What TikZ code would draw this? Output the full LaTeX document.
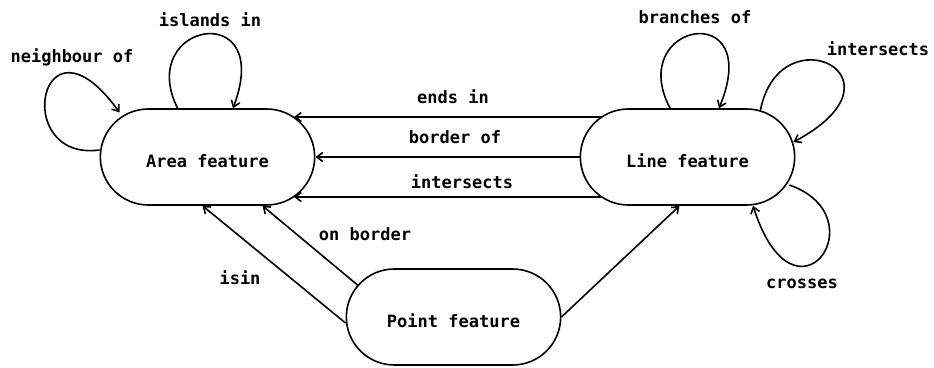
\documentclass[tikz,border=0pt]{standalone}
\usepackage{fontspec}
\setmonofont{DejaVu Sans Mono}
\usetikzlibrary{shapes.misc,arrows.meta}

\tikzset{
  feature/.style={draw, rounded rectangle, line width=1.6pt,
    minimum width=221pt, minimum height=96pt,
    font=\ttfamily\bfseries\fontsize{17}{20}\selectfont,
    text height=21pt, text depth=0pt},
  lab/.style={font=\ttfamily\bfseries\fontsize{17}{20}\selectfont, anchor=base, inner sep=0pt},
  arr/.style={line width=1.6pt, -{Straight Barb[length=6pt,width=9pt,line width=1.6pt]}},
}

\begin{document}
\begin{tikzpicture}[x=1pt,y=1pt]
\useasboundingbox (0,0) rectangle (934,367);

% the three feature types
\node[feature] (area)  at (207.5,210) {Area feature};
\node[feature] (line)  at (687.5,210) {Line feature};
\node[feature] (point) at (453.5,50)  {Point feature};

% relations from line features to area features
\draw[arr] ([shift={(21.5,40)}]line.west) -- ([shift={(-21.5,40)}]area.east);
\draw[arr] (line.west) -- (area.east);
\draw[arr] ([shift={(21.5,-40)}]line.west) -- ([shift={(-21.5,-40)}]area.east);
\node[lab] (lendsin)  at (453,263) {ends in};
\node[lab] (lborder)  at (455,223) {border of};
\node[lab] (linters)  at (462,178) {intersects};

% relations from point features
\draw[arr] ([yshift=-6]point.west) -- ([xshift=-5]area.south);
\draw[arr] ([shift={(12,32)}]point.west) -- ([xshift=55]area.south);
\draw[arr] (point.east) -- ([xshift=-8]line.south);
\node[lab] (lisin)    at (240,83)  {isin};
\node[lab] (lonborder) at (365,126) {on border};

% self relations of area features
\coordinate (nbA) at ([yshift=7]area.west);
\coordinate (nbB) at ([shift={(20,44.5)}]area.west);
\draw[arr] (nbA) .. controls (10,205) and (40,365) .. (nbB);
\node[lab] (lneigh) at (72,304) {neighbour of};

\draw[arr] ([xshift=-30]area.north) .. controls (135,345) and (275,370) .. ([xshift=25.5]area.north);
\node[lab] (lisl) at (210,340) {islands in};

% self relations of line features
\draw[arr] ([xshift=-17.5]line.north) .. controls (625,345) and (765,370) .. ([xshift=31.5]line.north);
\node[lab] (lbranch) at (695,343) {branches of};

\coordinate (isA) at ([shift={(-35,47)}]line.east);
\coordinate (isB) at ([shift={(-2,15)}]line.east);
\draw[arr] (isA) .. controls (780,355) and (915,290) .. (isB);
\node[lab] (linter2) at (878,311) {intersects};

\coordinate (crA) at ([shift={(-6,-28)}]line.east);
\draw[arr] (crA) .. controls (880,150) and (795,30) .. ([xshift=65.5]line.south);
\node[lab] (lcross) at (802,78) {crosses};
\end{tikzpicture}
\end{document}
